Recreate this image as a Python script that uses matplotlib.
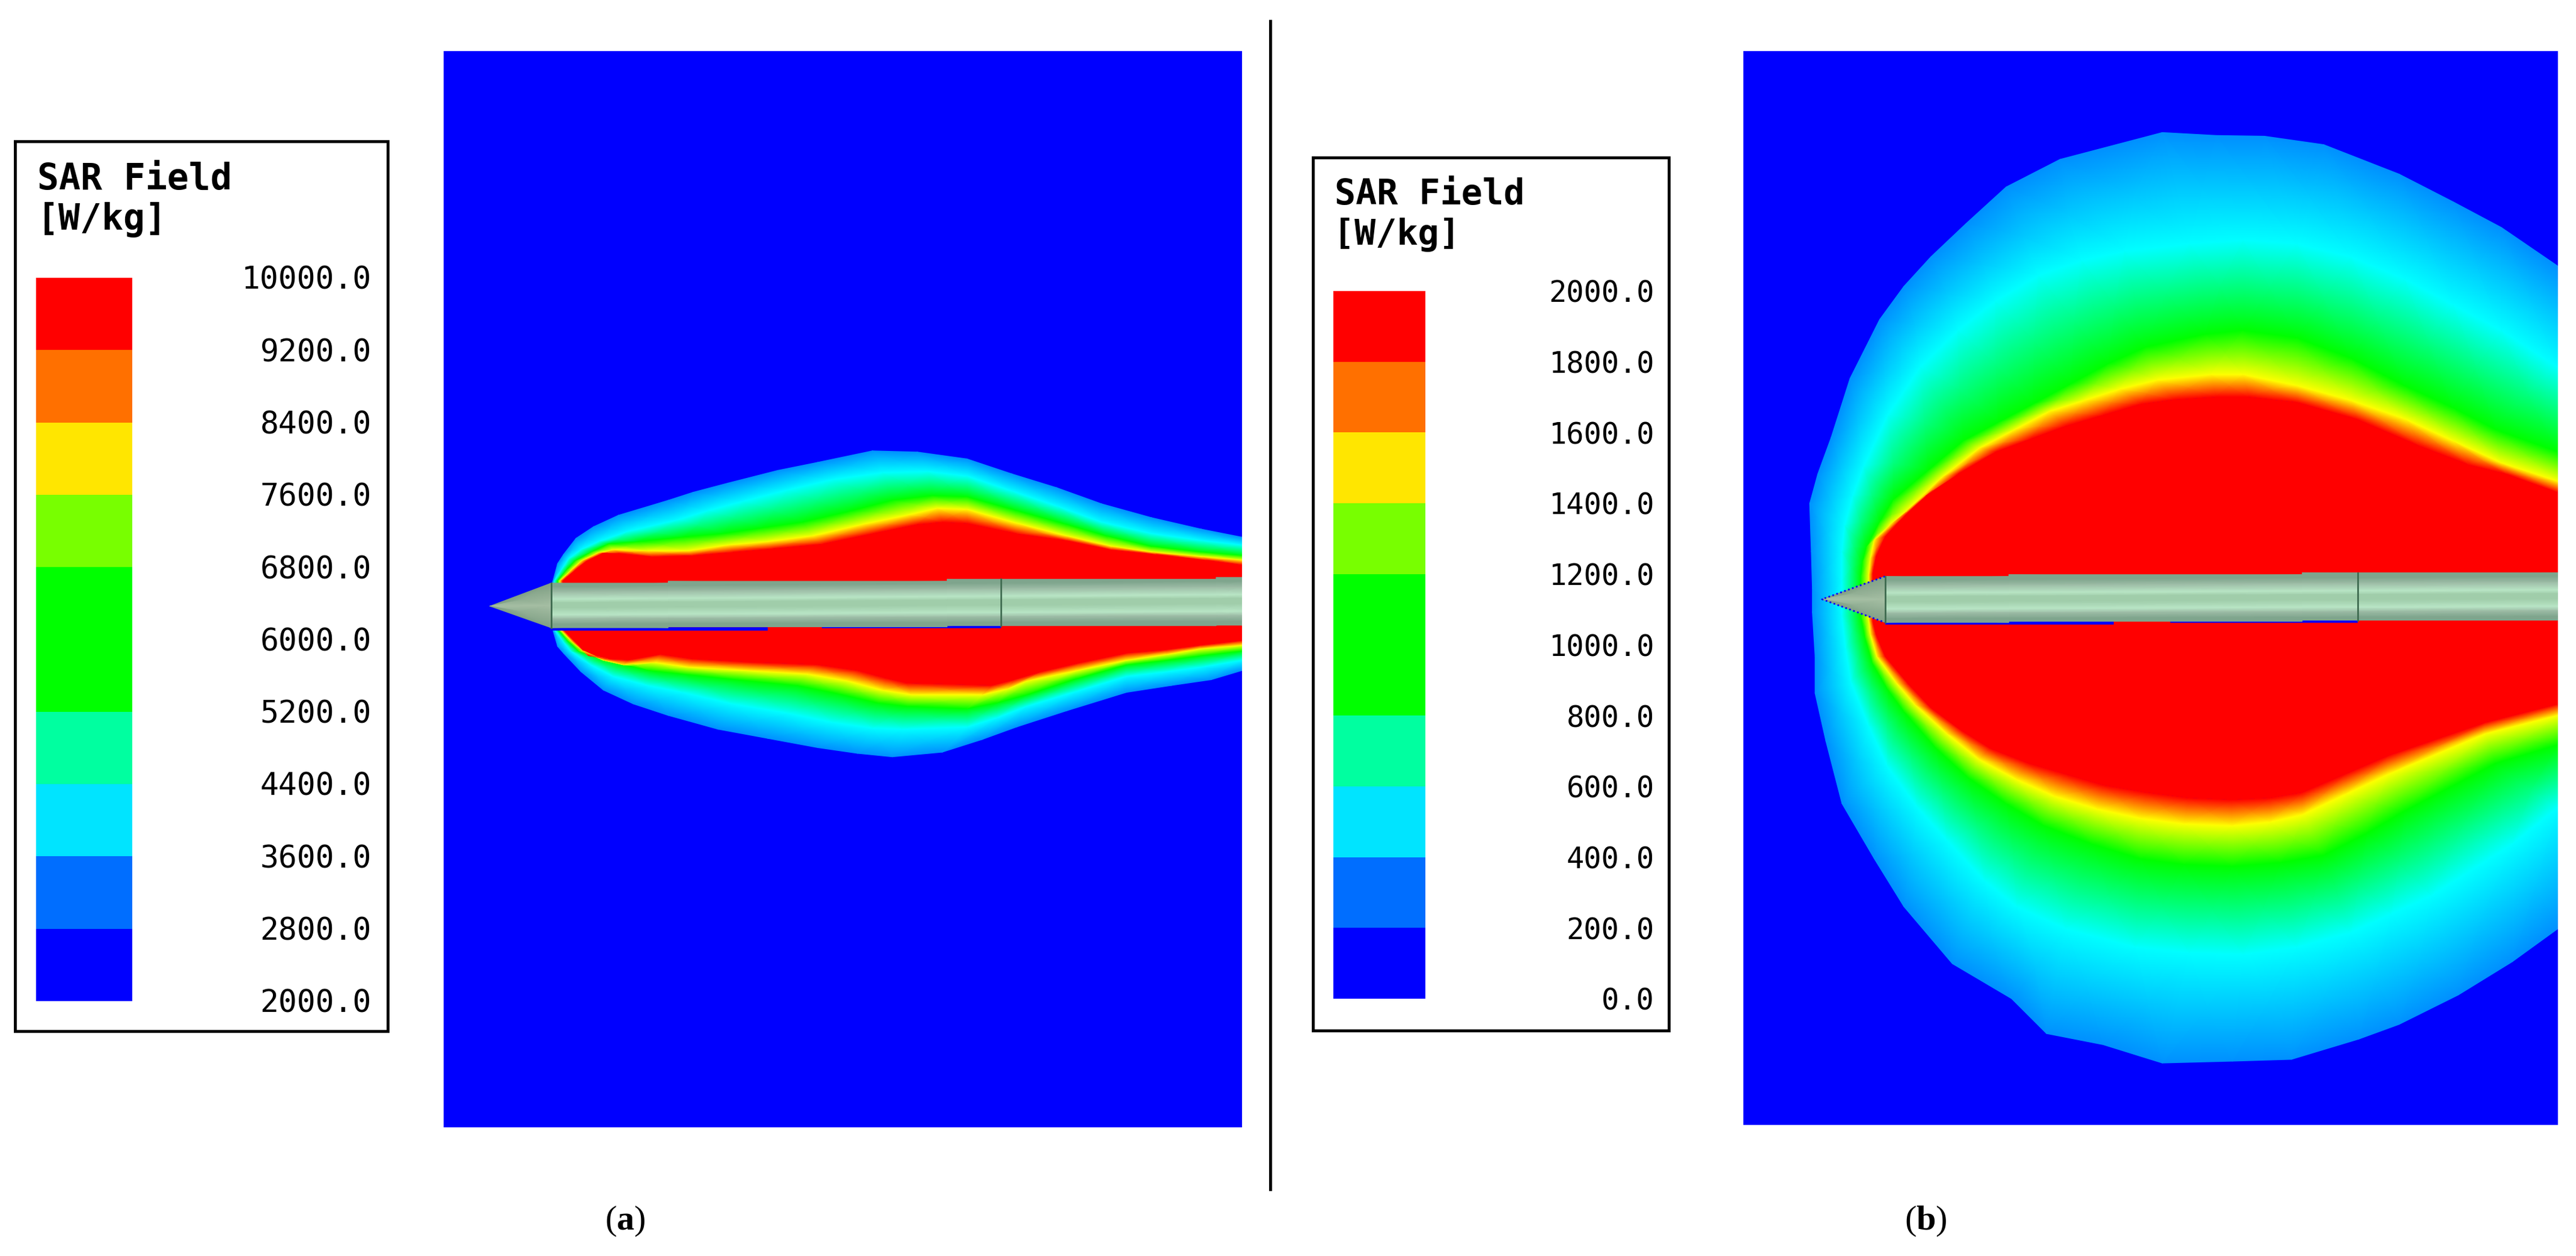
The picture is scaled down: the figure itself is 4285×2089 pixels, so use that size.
# SAR field maps for two power levels, legends on the left of each panel

import numpy as np
import matplotlib
matplotlib.use("Agg")
import matplotlib.pyplot as plt
from matplotlib.colors import LinearSegmentedColormap, ListedColormap

W, H = 4285, 2089

plt.rcParams['mathtext.fontset'] = 'custom'
plt.rcParams['mathtext.bf'] = 'Liberation Serif:bold'

# Legend levels and colours
levels_a = [2000, 2800, 3600, 4400, 5200, 6000, 6800, 7600, 8400, 9200, 10000]
levels_b = [0, 200, 400, 600, 800, 1000, 1200, 1400, 1600, 1800, 2000]
band_colors = ['#0000ff', '#006eff', '#00e4ff', '#00ffa0', '#00ff00',
               '#00ff00', '#78ff00', '#ffe600', '#ff7000', '#ff0000']

# Contour rows: outer edge, cyan, green, yellow, red
field_colors = ['#0090ff', '#00ffff', '#00ff00', '#ffff00', '#ff0000']

# Panel (a) contours, upper half
a_up_x = [[168, 178, 190, 215, 250, 300, 400, 450, 520, 620, 700, 810, 900, 1000, 1090, 1180, 1270, 1370, 1470, 1552],
          [172, 188, 200, 225, 260, 320, 420, 480, 550, 640, 730, 830, 920, 1000, 1090, 1180, 1270, 1370, 1470, 1552],
          [178, 195, 212, 245, 280, 340, 430, 510, 590, 670, 760, 850, 930, 1000, 1100, 1200, 1280, 1370, 1470, 1552],
          [183, 205, 225, 258, 290, 360, 440, 520, 600, 690, 790, 880, 940, 1000, 1100, 1200, 1290, 1370, 1470, 1552],
          [188, 212, 235, 268, 300, 370, 450, 530, 610, 710, 810, 900, 950, 1000, 1100, 1200, 1290, 1380, 1480, 1552]]
a_up_y = [[700, 620, 580, 510, 460, 410, 345, 310, 270, 215, 180, 130, 135, 165, 230, 290, 360, 420, 470, 505],
          [695, 640, 600, 560, 525, 480, 430, 390, 350, 300, 255, 225, 220, 240, 305, 370, 440, 490, 520, 540],
          [695, 650, 610, 570, 535, 525, 505, 490, 465, 440, 395, 345, 325, 330, 390, 450, 500, 545, 570, 585],
          [695, 650, 610, 575, 560, 565, 565, 540, 525, 500, 450, 410, 380, 385, 445, 500, 545, 570, 590, 605],
          [695, 650, 610, 575, 575, 590, 585, 570, 555, 535, 490, 450, 440, 445, 490, 520, 560, 580, 605, 625]]
# Panel (a) contours, lower half
a_lo_x = [[168, 178, 190, 225, 270, 330, 400, 500, 600, 700, 780, 850, 950, 1030, 1100, 1200, 1320, 1410, 1490, 1552],
          [172, 190, 205, 245, 290, 360, 430, 530, 640, 730, 810, 870, 1000, 1060, 1120, 1220, 1320, 1400, 1470, 1552],
          [178, 198, 220, 260, 300, 365, 430, 540, 660, 740, 820, 880, 1000, 1060, 1120, 1220, 1320, 1400, 1470, 1552],
          [183, 205, 230, 270, 310, 375, 440, 560, 680, 760, 830, 890, 1030, 1080, 1120, 1220, 1320, 1400, 1470, 1552],
          [188, 215, 240, 280, 320, 385, 450, 570, 700, 780, 840, 880, 1050, 1095, 1150, 1230, 1320, 1400, 1470, 1552]]
a_lo_y = [[905, 980, 1010, 1090, 1170, 1230, 1280, 1340, 1380, 1420, 1445, 1460, 1440, 1385, 1330, 1260, 1180, 1150, 1125, 1085],
          [905, 960, 1000, 1060, 1110, 1150, 1180, 1230, 1270, 1310, 1335, 1340, 1330, 1290, 1240, 1175, 1110, 1090, 1070, 1040],
          [905, 955, 1000, 1030, 1055, 1085, 1100, 1125, 1150, 1185, 1225, 1240, 1250, 1225, 1190, 1120, 1060, 1040, 1020, 1000],
          [905, 955, 1000, 1040, 1060, 1050, 1070, 1085, 1100, 1130, 1170, 1190, 1190, 1165, 1130, 1085, 1040, 1015, 990, 975],
          [905, 965, 1020, 1035, 1040, 1015, 1035, 1050, 1060, 1085, 1120, 1140, 1150, 1125, 1090, 1050, 1010, 995, 975, 955]]

# Panel (b) contours, upper half
b_up_x = [[150, 148, 145, 160, 185, 220, 275, 320, 370, 435, 510, 610, 800, 900, 990, 1100, 1240, 1340, 1430, 1535],
          [205, 205, 210, 225, 245, 290, 350, 420, 490, 570, 650, 730, 850, 950, 1050, 1150, 1250, 1340, 1430, 1535],
          [240, 243, 250, 275, 300, 365, 430, 495, 560, 630, 700, 770, 880, 950, 1050, 1150, 1250, 1340, 1420, 1535],
          [255, 258, 265, 293, 325, 390, 460, 525, 590, 655, 720, 790, 890, 950, 1050, 1150, 1250, 1340, 1430, 1535],
          [262, 268, 285, 320, 360, 420, 490, 555, 620, 690, 760, 820, 900, 960, 1050, 1160, 1280, 1370, 1440, 1535]]
b_up_y = [[1500, 1400, 1270, 1190, 1090, 930, 770, 680, 600, 510, 410, 335, 262, 270, 272, 295, 375, 450, 520, 625],
          [1480, 1400, 1330, 1250, 1170, 1030, 900, 800, 720, 650, 610, 585, 565, 555, 565, 600, 660, 730, 800, 900],
          [1470, 1430, 1390, 1320, 1260, 1180, 1100, 1050, 1000, 945, 890, 845, 810, 800, 820, 875, 950, 1010, 1070, 1130],
          [1465, 1420, 1370, 1330, 1290, 1200, 1120, 1070, 1020, 990, 960, 935, 920, 920, 950, 990, 1040, 1100, 1160, 1210],
          [1462, 1415, 1360, 1305, 1250, 1190, 1130, 1095, 1060, 1030, 1000, 988, 980, 980, 995, 1040, 1115, 1165, 1190, 1240]]
# Panel (b) contours, lower half, y counted from the second crop
b_lo_x = [[150, 155, 155, 175, 205, 265, 320, 410, 520, 585, 690, 800, 930, 1040, 1165, 1240, 1350, 1450, 1535],
          [205, 212, 222, 255, 290, 345, 400, 470, 530, 620, 750, 850, 950, 1050, 1150, 1225, 1300, 1450, 1535],
          [240, 248, 262, 290, 320, 380, 440, 510, 580, 670, 760, 840, 930, 1020, 1100, 1180, 1250, 1420, 1535],
          [255, 258, 270, 305, 340, 400, 460, 530, 600, 680, 760, 840, 930, 1000, 1060, 1140, 1220, 1400, 1535],
          [262, 268, 285, 328, 370, 425, 480, 550, 620, 690, 770, 850, 930, 1000, 1060, 1140, 1220, 1400, 1535]]
b_lo_y = [[30, 150, 250, 380, 550, 700, 830, 985, 1080, 1175, 1205, 1255, 1250, 1245, 1190, 1150, 1070, 980, 890],
          [40, 130, 220, 340, 450, 560, 650, 760, 830, 890, 940, 955, 960, 940, 900, 850, 800, 660, 560],
          [40, 100, 170, 240, 300, 400, 480, 550, 610, 660, 700, 715, 720, 710, 690, 630, 570, 440, 390],
          [50, 90, 150, 220, 280, 360, 430, 485, 530, 565, 590, 605, 610, 600, 580, 525, 470, 360, 310],
          [55, 90, 150, 225, 290, 350, 400, 440, 470, 500, 520, 535, 540, 535, 520, 470, 420, 330, 280]]
b_lo_offset = 1535

# Probe outline: tip, base, joint and stepped edges
a_tip = (42, 805)
a_base_x = 165
a_joint_x = 1068
a_rod_x = [165, 400, 400, 960, 960, 1500, 1500, 1552]
a_rod_top = [705, 705, 697, 697, 688, 688, 680, 680]
a_rod_bot = [899, 899, 895, 895, 890, 890, 888, 888]
a_blue_x = [[165, 600], [708, 1068]]
a_blue_y = [903, 893]

b_tip = (168, 1530)
b_base_x = 285
b_joint_x = 1163
b_rod_x = [285, 515, 515, 1060, 1060, 1535]
b_rod_top = [1468, 1468, 1463, 1463, 1458, 1458]
b_rod_bot = [1593, 1593, 1590, 1590, 1587, 1587]
b_blue_x = [[285, 710], [815, 1163]]
b_blue_y = [1594, 1589]

rod_pos = [0, .08, .2, .36, .44, .55, .71, .8, .92, 1]
rod_hex = ['#7fa58d', '#7fa58d', '#9dbca6', '#b9e6c6', '#a0cdaa',
           '#a0cdaa', '#b9e6c6', '#9dbca6', '#7fa58d', '#7fa58d']


def px_rect(x0, y0, x1, y1):
    return [x0 / W, 1 - y1 / H, (x1 - x0) / W, (y1 - y0) / H]


fig = plt.figure(figsize=(W / 100, H / 100), dpi=100, facecolor='white')

# Base layer in picture pixels for boxes, divider, captions
base = fig.add_axes([0, 0, 1, 1])
base.set_xlim(0, W)
base.set_ylim(H, 0)
base.axis('off')

field_cmap = ListedColormap(field_colors)
rod_cmap = LinearSegmentedColormap.from_list('rod', list(zip(rod_pos, rod_hex)))
cone_cmap = LinearSegmentedColormap.from_list('cone', ['#7f9f85', '#a6bfa4', '#7f9f85'])


def draw_panel(rect, xlim, ylim, up_x, up_y, lo_x, lo_y, tip, base_x, joint_x,
               rod_x, rod_top, rod_bot, blue_x, blue_y, dotted_tip):
    ax = fig.add_axes(px_rect(*rect))
    ax.set_xlim(*xlim)
    ax.set_ylim(*ylim)
    ax.set_facecolor('#0000ff')
    ax.set_xticks([])
    ax.set_yticks([])
    for s in ax.spines.values():
        s.set_visible(False)

    # Contour rows go round from upper right to lower right
    X = np.hstack([np.array(up_x)[:, ::-1], np.array(lo_x)])
    Y = np.hstack([np.array(up_y)[:, ::-1], np.array(lo_y)])
    C = np.repeat(np.arange(5)[:, None], X.shape[1], axis=1)
    ax.fill(X[4], Y[4], color='#ff0000', lw=0, zorder=1)
    ax.pcolormesh(X, Y, C, shading='gouraud', cmap=field_cmap, vmin=0, vmax=4, zorder=2)

    # Blue slivers under the probe
    for seg, y in zip(blue_x, blue_y):
        ax.plot(seg, [y, y], color='#0000ff', lw=4, solid_capstyle='butt', zorder=3)

    # Probe body: shading follows the slight tilt, only the outer rows step
    f = np.array(rod_pos)
    rx = np.array(rod_x, dtype=float)
    rt = np.array(rod_top, dtype=float)
    rb = np.array(rod_bot, dtype=float)
    s = (rx - rx[0]) / (rx[-1] - rx[0])
    tilt_t = rt[0] + s * (rt[-1] - rt[0])
    tilt_b = rb[0] + s * (rb[-1] - rb[0])
    RX = np.tile(rx, (len(f), 1))
    RY = np.outer(f, tilt_b - tilt_t) + tilt_t
    RY[0] = rt
    RY[-1] = rb
    RC = np.repeat(f[:, None], len(rx), axis=1)
    ax.pcolormesh(RX, RY, RC, shading='gouraud', cmap=rod_cmap, vmin=0, vmax=1, zorder=4)

    # Cone
    g = np.array([0, .5, 1])
    CX = np.array([[tip[0], base_x]] * 3, dtype=float)
    CY = np.array([[tip[1], rod_top[0] + v * (rod_bot[0] - rod_top[0])] for v in g])
    CC = np.repeat(g[:, None], 2, axis=1)
    ax.pcolormesh(CX, CY, CC, shading='gouraud', cmap=cone_cmap, vmin=0, vmax=1, zorder=4)
    if dotted_tip:
        ax.plot([base_x, tip[0], base_x], [rod_top[0], tip[1], rod_bot[0]],
                color='#0000ff', lw=2, ls=(0, (1, 1.5)), zorder=5)

    # Joints
    ax.plot([base_x, base_x], [rod_top[0], rod_bot[0]], color='#3f6b50', lw=2, zorder=5)
    i = np.searchsorted(rx, joint_x)
    ax.plot([joint_x, joint_x], [rod_top[i], rod_bot[i]], color='#3f6b50', lw=2, zorder=5)


def draw_legend(box, bar, levels, label_right, title_xy, fs_title, fs_label):
    x0, y0, x1, y1 = box
    base.plot([x0, x1, x1, x0, x0], [y0, y0, y1, y1, y0], color='black', lw=3.5,
              solid_joinstyle='miter')
    base.text(title_xy[0], title_xy[1], 'SAR Field', family='DejaVu Sans Mono',
              weight='bold', fontsize=fs_title, ha='left', va='baseline')
    base.text(title_xy[2], title_xy[3], '[W/kg]', family='DejaVu Sans Mono',
              weight='bold', fontsize=fs_title, ha='left', va='baseline')
    ax = fig.add_axes(px_rect(*bar))
    ax.bar(0.5, np.diff(levels), width=1, bottom=levels[:-1], color=band_colors, lw=0)
    ax.set_xlim(0, 1)
    ax.set_ylim(levels[0], levels[-1])
    ax.axis('off')
    xr = (label_right - bar[0]) / (bar[2] - bar[0])
    for v in levels:
        ax.annotate('%.1f' % v, xy=(xr, v), xytext=(0, -3.5), textcoords='offset points',
                    family='DejaVu Sans Mono', fontsize=fs_label,
                    ha='right', va='center', annotation_clip=False)


draw_legend((25, 235, 645, 1715), (60, 462, 220, 1665), levels_a, 618,
            (62, 315, 62, 382), 43, 37)
draw_legend((2184, 262, 2776, 1714), (2218, 484, 2371, 1661), levels_b, 2752,
            (2220, 340, 2218, 407), 42, 35)

# Axes limits line the read coordinates up with each panel rectangle
draw_panel((738, 85, 2066, 1875), (-50.6, 1552), (3070, -1607),
           a_up_x, a_up_y, a_lo_x, a_lo_y, a_tip, a_base_x, a_joint_x,
           a_rod_x, a_rod_top, a_rod_bot, a_blue_x, a_blue_y, False)
draw_panel((2900, 85, 4255, 1871), (22, 1535), (2958, 41),
           b_up_x, b_up_y, b_lo_x, np.array(b_lo_y) + b_lo_offset, b_tip, b_base_x, b_joint_x,
           b_rod_x, b_rod_top, b_rod_bot, b_blue_x, b_blue_y, True)

# Divider and captions
base.plot([2113, 2113], [35, 1978], color='black', lw=3.5)
base.text(1040, 2031, r'($\mathbf{a}$)', family='Liberation Serif', fontsize=42, ha='center', va='center')
base.text(3203, 2031, r'($\mathbf{b}$)', family='Liberation Serif', fontsize=42, ha='center', va='center')

fig.savefig('out.png', dpi=100)
